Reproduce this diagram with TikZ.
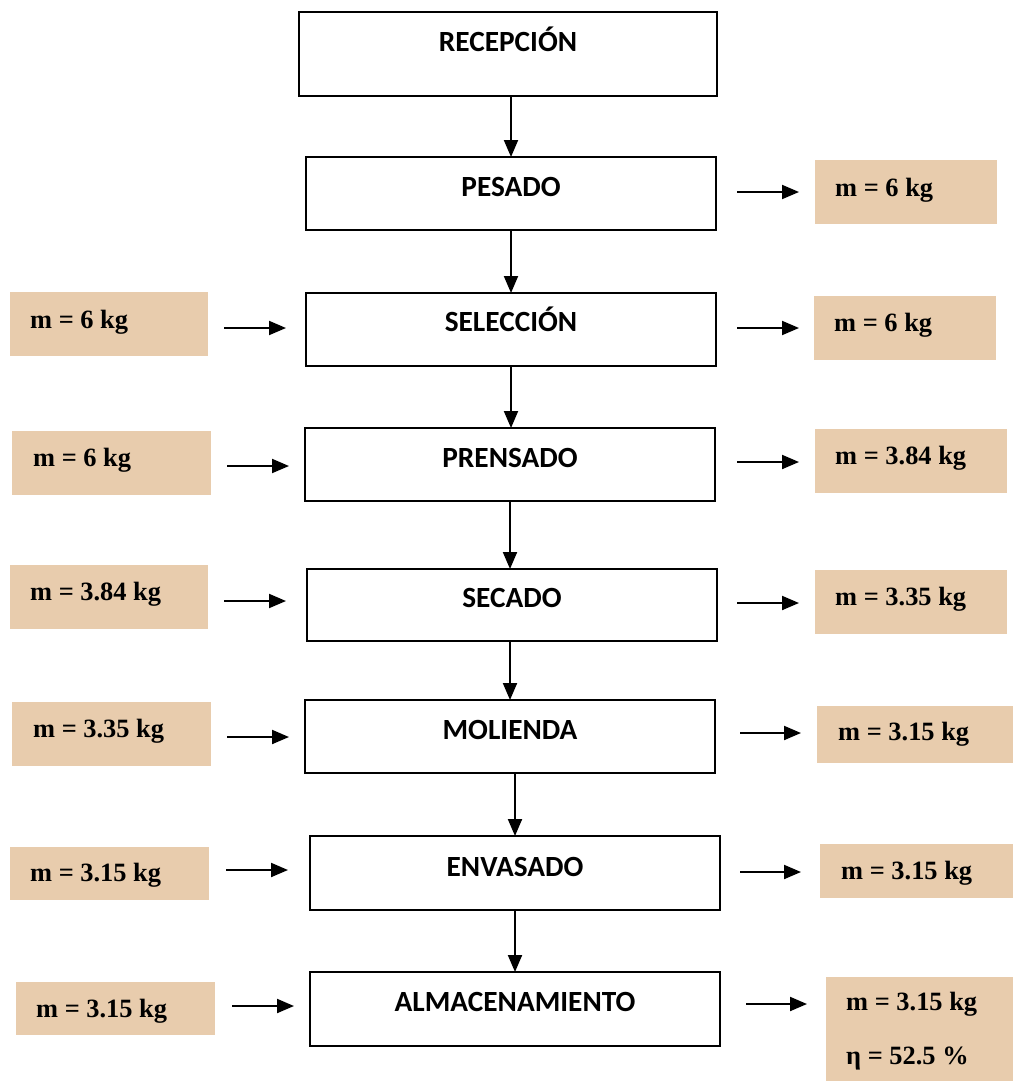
\documentclass[tikz,border=0pt]{standalone}
\usepackage{fontspec}
\setmainfont{Liberation Serif}
\newfontfamily\stagefont{Carlito}
\usetikzlibrary{arrows.meta}
\definecolor{massfill}{RGB}{232,204,173}
\begin{document}
\begin{tikzpicture}[x=1pt,y=-1pt,
  procbox/.style={draw=black, line width=1.7pt, inner sep=0pt, outer sep=0pt},
  proclabel/.style={font=\stagefont\bfseries\fontsize{29.3}{31}\selectfont, inner sep=0pt, anchor=base},
  massbox/.style={fill=massfill, draw=none, inner sep=0pt, outer sep=0pt},
  masslabel/.style={font=\bfseries\fontsize{26.4}{28}\selectfont, inner sep=0pt, anchor=base west},
  flow/.style={line width=2pt, -{Triangle[length=17pt,width=14pt]}}]

\useasboundingbox (0,0) rectangle (1014,1081);

% process stages
\node[procbox, minimum width=418pt, minimum height=84pt] (recep) at (508,54) {};
\node[procbox, minimum width=410pt, minimum height=73pt] (pesado) at (511,193.5) {};
\node[procbox, minimum width=410pt, minimum height=73pt] (selec) at (511,329.5) {};
\node[procbox, minimum width=410pt, minimum height=73pt] (prens) at (510,464.5) {};
\node[procbox, minimum width=410pt, minimum height=72pt] (secado) at (512,605) {};
\node[procbox, minimum width=410pt, minimum height=73pt] (moli) at (510,736.5) {};
\node[procbox, minimum width=410pt, minimum height=74pt] (envas) at (515,873) {};
\node[procbox, minimum width=410pt, minimum height=74pt] (almac) at (515,1009) {};

\node[proclabel] (t-recep) at (508,52) {RECEPCIÓN};
\node[proclabel] (t-pesado) at (511,196) {PESADO};
\node[proclabel] (t-selec) at (511,331) {SELECCIÓN};
\node[proclabel] (t-prens) at (510,467) {PRENSADO};
\node[proclabel] (t-secado) at (512,607) {SECADO};
\node[proclabel] (t-moli) at (510,739) {MOLIENDA};
\node[proclabel] (t-envas) at (515,876) {ENVASADO};
\node[proclabel] (t-almac) at (515,1011) {ALMACENAMIENTO};

% main flow
\draw[flow] (recep.south -| pesado.north) -- (pesado.north);
\draw[flow] (pesado.south) -- (pesado.south |- selec.north);
\draw[flow] (selec.south) -- (selec.south |- prens.north);
\draw[flow] (prens.south) -- (prens.south |- secado.north);
\draw[flow] (secado.south -| moli.north) -- (moli.north);
\draw[flow] (moli.south -| envas.north) -- (envas.north);
\draw[flow] (envas.south) -- (envas.south |- almac.north);

% mass entering each stage
\node[massbox, minimum width=198pt, minimum height=64pt] (in1) at (109,324) {};
\node[massbox, minimum width=199pt, minimum height=64pt] (in2) at (111.5,463) {};
\node[massbox, minimum width=198pt, minimum height=64pt] (in3) at (109,597) {};
\node[massbox, minimum width=199pt, minimum height=64pt] (in4) at (111.5,734) {};
\node[massbox, minimum width=199pt, minimum height=53pt] (in5) at (109.5,873.5) {};
\node[massbox, minimum width=199pt, minimum height=53pt] (in6) at (115.5,1008.5) {};

\node[masslabel] (t-in1) at (30,328) {m = 6 kg};
\node[masslabel] (t-in2) at (33,466) {m = 6 kg};
\node[masslabel] (t-in3) at (30,600) {m = 3.84 kg};
\node[masslabel] (t-in4) at (33,737) {m = 3.35 kg};
\node[masslabel] (t-in5) at (30,881) {m = 3.15 kg};
\node[masslabel] (t-in6) at (36,1017) {m = 3.15 kg};

% mass leaving each stage
\node[massbox, minimum width=182pt, minimum height=64pt] (out1) at (906,192) {};
\node[massbox, minimum width=182pt, minimum height=64pt] (out2) at (905,328) {};
\node[massbox, minimum width=192pt, minimum height=64pt] (out3) at (911,461) {};
\node[massbox, minimum width=192pt, minimum height=64pt] (out4) at (911,602) {};
\node[massbox, minimum width=196pt, minimum height=57pt] (out5) at (915,734.5) {};
\node[massbox, minimum width=193pt, minimum height=54pt] (out6) at (916.5,871) {};
\node[massbox, minimum width=187pt, minimum height=104pt] (out7) at (919.5,1029) {};

\node[masslabel] (t-out1) at (835,196) {m = 6 kg};
\node[masslabel] (t-out2) at (834,331) {m = 6 kg};
\node[masslabel] (t-out3) at (835,464) {m = 3.84 kg};
\node[masslabel] (t-out4) at (835,605) {m = 3.35 kg};
\node[masslabel] (t-out5) at (838,740) {m = 3.15 kg};
\node[masslabel] (t-out6) at (841,879) {m = 3.15 kg};
\node[masslabel] (t-out7) at (846,1010) {m = 3.15 kg};
\node[masslabel] (t-eta) at (846,1064) {η = 52.5 \%};

% input arrows
\coordinate (i1s) at (224,328);  \coordinate (i1e) at (286,328);
\coordinate (i2s) at (227,466);  \coordinate (i2e) at (289,466);
\coordinate (i3s) at (224,601);  \coordinate (i3e) at (286,601);
\coordinate (i4s) at (227,737);  \coordinate (i4e) at (289,737);
\coordinate (i5s) at (226,870);  \coordinate (i5e) at (288,870);
\coordinate (i6s) at (232,1006); \coordinate (i6e) at (294,1006);
\foreach \k in {1,...,6} \draw[flow] (i\k s) -- (i\k e);

% output arrows
\coordinate (o1s) at (737,192);  \coordinate (o1e) at (799,192);
\coordinate (o2s) at (737,328);  \coordinate (o2e) at (799,328);
\coordinate (o3s) at (737,462);  \coordinate (o3e) at (799,462);
\coordinate (o4s) at (737,603);  \coordinate (o4e) at (799,603);
\coordinate (o5s) at (740,733);  \coordinate (o5e) at (801,733);
\coordinate (o6s) at (740,872);  \coordinate (o6e) at (801,872);
\coordinate (o7s) at (746,1004); \coordinate (o7e) at (807,1004);
\foreach \k in {1,...,7} \draw[flow] (o\k s) -- (o\k e);

\end{tikzpicture}
\end{document}
